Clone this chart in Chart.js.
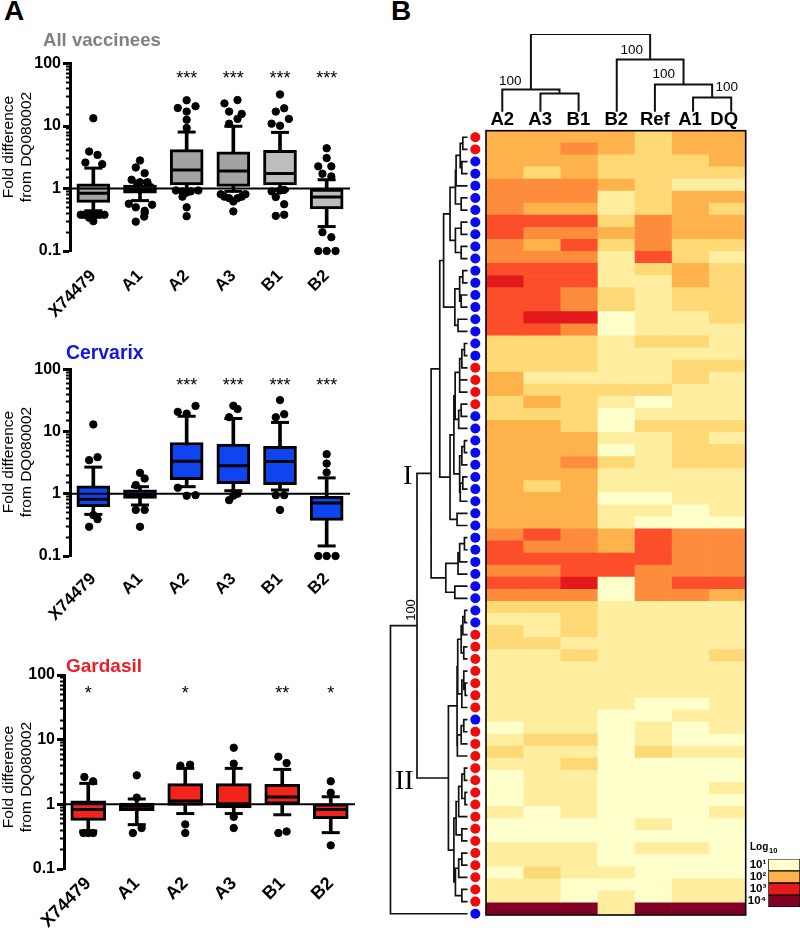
<!DOCTYPE html>
<html>
<head>
<meta charset="utf-8">
<title>Fold difference and heatmap</title>
<script src="https://cdn.jsdelivr.net/npm/chart.js@4"></script>
<style>
  html, body { margin: 0; padding: 0; background: #fff; }
  #page { position: relative; width: 800px; height: 928px; overflow: hidden; font-family: "Liberation Sans", Arial, sans-serif; }
  canvas { position: absolute; }
  .txt { position: absolute; white-space: nowrap; line-height: 1; color: #000; }
</style>
</head>
<body>
<div id="page"></div>
<script>
// panel A categories
const types = ["X74479", "A1", "A2", "A3", "B1", "B2"];

// All vaccinees
const allLow = [0.44, 0.64, 0.95, 0.9, 0.95, 0.246];
const allQ1 = [0.6, 0.84, 1.14, 1.08, 1.14, 0.47];
const allMed = [0.84, 0.93, 1.97, 1.9, 1.74, 0.73];
const allQ3 = [1.19, 1.13, 4.2, 3.87, 4.07, 0.975];
const allHigh = [2.12, 1.3, 8, 9.9, 7.9, 1.38];
const allStars = ["", "", "***", "***", "***", "***"];
const allPoints = [
  [0, 13.3], [-0.09, 3.9], [0.09, 3.45], [-0.17, 2.6], [0.19, 2.45], [-0.27, 0.38], [-0.2, 0.38], [-0.13, 0.38],
  [-0.06, 0.36], [0, 0.38], [0.07, 0.38], [0.14, 0.38], [0.24, 0.38], [-0.09, 0.34], [0, 0.3],
  [1, 2.81], [0.91, 2.17], [1.1, 1.76], [0.82, 1.38], [1, 1.26], [1.16, 1.26], [0.94, 1.2], [1.23, 1.05],
  [0.76, 0.57], [0.91, 0.5], [1.1, 0.44], [1.26, 0.55], [1.09, 0.355], [0.91, 0.295], [1.1, 0.41],
  [2, 25.8], [1.81, 19.4], [2.19, 20.7], [2, 17], [2, 12.6], [2, 9.3], [1.77, 0.93], [1.91, 0.9], [2.09, 0.9],
  [2.25, 0.93], [2, 0.86], [1.91, 0.74], [2, 0.5], [2, 0.36],
  [2.81, 23], [3.09, 26], [2.91, 17], [3.18, 15.6], [3.09, 13], [2.91, 10.9], [2.73, 0.81], [2.81, 0.74],
  [2.91, 0.7], [3, 0.62], [3.09, 0.7], [3.18, 0.74], [3.26, 0.81], [3, 0.43],
  [4, 32], [3.91, 17], [4.09, 19.2], [4.19, 13], [3.82, 10.9], [4, 10.1], [3.82, 0.9], [4.09, 0.95], [4, 0.93],
  [3.91, 0.73], [4.09, 0.56], [3.91, 0.365], [4.09, 0.38],
  [5, 4.4], [5, 3.07], [4.82, 2.26], [5.1, 2.26], [4.91, 1.72], [5.1, 1.56], [4.91, 0.2], [5.1, 0.166],
  [4.82, 0.1], [5, 0.1], [5.19, 0.1]
];

// Cervarix
const cerLow = [0.466, 0.66, 1.3, 1.12, 1.15, 0.145];
const cerQ1 = [0.62, 0.84, 1.68, 1.45, 1.4, 0.373];
const cerMed = [0.82, 0.975, 3.34, 2.81, 3.3, 0.71];
const cerQ3 = [1.34, 1.16, 6.66, 6.3, 5.8, 0.906];
const cerHigh = [2.68, 1.3, 17.6, 16.2, 14, 1.8];
const cerStars = ["", "", "***", "***", "***", "***"];
const cerPoints = [
  [0, 13], [-0.09, 3.47], [0.09, 3.87], [0, 0.455], [0.09, 0.39], [-0.09, 0.295],
  [1, 2.17], [1.1, 1.76], [0.91, 1.38], [0.91, 0.55], [1.1, 0.55], [1, 0.295],
  [2.19, 25.8], [1.81, 20.7], [2, 19.4], [1.81, 1.25], [2, 0.93], [2.19, 0.95],
  [3, 26], [3.09, 23], [2.91, 17], [3.09, 1], [3, 0.93], [2.91, 0.79],
  [4, 32], [4.09, 19], [3.91, 17], [3.91, 0.95], [4.09, 0.95], [4, 0.55],
  [5, 4.33], [5, 3.06], [5, 2.2], [4.82, 0.1], [5, 0.1], [5.19, 0.1]
];

// Gardasil
const garLow = [0.387, 0.485, 0.72, 0.72, 0.69, 0.365];
const garQ1 = [0.565, 0.8, 0.965, 0.88, 1.01, 0.6];
const garMed = [0.83, 0.93, 1.13, 1.02, 1.3, 0.83];
const garQ3 = [1.13, 1.05, 2.09, 2.09, 2.04, 1.02];
const garHigh = [2.11, 1.21, 3.6, 3.6, 3.47, 1.31];
const garStars = ["*", "", "*", "", "**", "*"];
const garPoints = [
  [-0.08, 2.65], [0.1, 2.27], [-0.1, 0.36], [0, 0.36], [0.1, 0.36],
  [1, 2.81], [1, 1.27], [0.92, 0.36], [1.1, 0.43],
  [1.9, 3.96], [2.1, 4.1], [2, 0.49], [2, 0.36],
  [3, 7.5], [3, 4.25], [3, 0.64], [3, 0.43],
  [3.92, 5.45], [4.09, 4.35], [3.92, 0.36], [4.09, 0.38],
  [5, 2.27], [5, 1.51], [5, 0.232]
];

// panel B, log10 colour level per row, columns as in heatCols
const heatCols = ["A2", "A3", "B1", "B2", "Ref", "A1", "DQ"];
const heatColTicks = [0.44, 1.46, 2.49, 3.51, 4.55, 5.5, 6.42];
const heatRows = [
  [3,3,3,3,2,3,3], [3,3,4,3,2,3,3], [3,3,3,2,2,2,3], [3,2,3,2,2,2,2], [4,4,4,3,2,1,1],
  [4,4,4,1,2,3,3], [4,3,3,1,2,3,2], [5,5,5,2,4,3,3], [5,4,4,3,4,3,3], [4,3,5,2,4,2,2],
  [4,4,4,1,5,2,1], [5,5,5,1,2,3,2], [6,5,5,1,1,3,2], [5,5,4,2,1,2,2], [5,5,4,2,1,2,2],
  [5,6,6,0,1,1,2], [5,5,4,0,1,1,1], [2,2,2,1,2,2,1], [2,2,2,1,1,1,1], [2,2,2,1,1,2,2],
  [3,1,1,1,1,2,1], [3,2,2,2,2,1,1], [2,3,2,1,0,1,1], [2,2,2,0,1,1,1], [3,3,2,0,2,2,2],
  [3,3,3,1,1,2,1], [3,3,3,0,1,2,2], [3,3,4,2,1,2,2], [3,3,3,1,1,1,1], [3,2,3,1,1,1,1],
  [3,3,3,0,0,1,1], [3,3,3,1,1,0,1], [3,3,3,1,0,0,0], [4,5,4,3,5,4,4], [5,4,4,3,5,4,4],
  [5,5,5,5,5,4,4], [4,4,5,5,4,4,4], [5,5,6,0,4,5,5], [4,4,4,0,4,4,3], [2,2,2,1,1,1,1],
  [1,1,2,1,1,1,1], [2,1,2,1,1,1,1], [2,2,1,1,1,1,1], [1,1,2,1,1,1,2], [1,1,1,1,1,1,1],
  [1,1,1,1,1,1,1], [1,1,1,1,1,1,1], [1,1,1,1,0,0,1], [1,1,1,0,0,1,1], [0,1,1,0,1,0,1],
  [1,2,2,0,1,0,0], [2,1,1,0,2,1,1], [1,1,2,0,0,0,0], [0,1,1,0,0,0,0], [0,1,1,0,0,0,1],
  [0,1,1,0,0,0,0], [1,0,1,0,0,0,1], [0,0,0,0,1,0,0], [0,0,0,0,0,0,0], [1,1,1,0,1,1,0],
  [1,1,1,0,0,0,0], [0,2,1,1,0,0,0], [1,1,0,0,0,1,1], [1,1,0,1,0,1,1], [7,7,7,1,7,7,7]
];
const heatPalette = ["#ffffcc", "#ffeda0", "#fed976", "#feb24c", "#fd8d3c", "#fc4e2a", "#e31a1c", "#800026"];

// C = Cervarix, G = Gardasil, one per row
const rowVaccine = "GGCCCCCCCCCCCCCCCCCGGGGCCCCCCCCCCCCCCCCCCGGGGGGGCGGGGGGGGGGGGGGGC".split("");

// dendrograms: [height, child, child], a bare number is a leaf
const rowUpper = [24,
  [17.3,
    [11.7, [11, [6.7, [4, 0, 1], [5, 2, 3]], 4], [5.7, 5, 6]],
    [11.7, [5.7, 7, 8], [5.7, 9, 10]]],
  [12.3, [7.3, [4, 11, 12], [5.7, 13, 14]], [9, 15, 16]]];
const rowMiddle = [17.3,
  [13.3,
    [12, [7.3, [5, [2.3, 17, 18], 19], [7.3, 20, 21]], [8.3, [5.7, 22, 23], 24]],
    [7.3, [5, [2.3, 25, 26], 27], [6.7, [4, 28, 29], 30]]],
  [10, 31, 32]];
const rowLower = [21.7, [9, [7.3, [2.3, 33, 34], 35], 36], [12.3, 37, 38]];
const rowGroup2 = [19,
  [10,
    [9.3, [5.7, [4, [2, 39, 40], 41], [3, 42, 43]], [5, [3, 44, [1.5, 45, 46]], 47]],
    [9.7, [5.7, [3, 48, 49], 50], 51]],
  [13.3,
    [11, [8.3, [5, [2.3, 52, 53], [1.7, 54, 55]], 56], [5, 57, 58]],
    [11.7, [8.3, [5, 59, 60], 61], [5, 62, 63]]]];
const rowTree = [79.3, [51.7, [37, [28, rowUpper, rowMiddle], rowLower], rowGroup2], 64];
const colTree = [77.7, [22.3, 0, [18.3, 1, 2]], [52.3, 3, [27.3, 4, [14.3, 5, 6]]]];

const legendLabels = ["10\u00b9", "10\u00b2", "10\u00b3", "10\u2074"];
const legendColors = ["#ffffcc", "#feb24c", "#e31a1c", "#800026"];

const page = document.getElementById("page");
const fontName = '"Liberation Sans"';

function makeCanvas(x, y, w, h) {
  const c = document.createElement("canvas");
  c.width = w;
  c.height = h;
  c.style.left = x + "px";
  c.style.top = y + "px";
  c.style.width = w + "px";
  c.style.height = h + "px";
  page.appendChild(c);
  return c.getContext("2d");
}

// baseline text
function putText(text, x, baseline, size, css) {
  const d = document.createElement("div");
  d.className = "txt";
  d.textContent = text;
  d.style.cssText = `left:${x}px;top:${baseline - size * 0.8465}px;font-size:${size}px;${css || ""}`;
  page.appendChild(d);
}

// centred vertical text
function putSideText(text, cx, cy, size, css) {
  const d = document.createElement("div");
  d.className = "txt";
  d.textContent = text;
  d.style.cssText = `left:${cx}px;top:${cy}px;font-size:${size}px;transform:translate(-50%,-50%) rotate(-90deg);${css || ""}`;
  page.appendChild(d);
}

// flatten a tree into line pieces, with NaN breaks between them
function treeLines(node, out) {
  if (typeof node === "number") return { pos: node, h: 0 };
  const a = treeLines(node[1], out);
  const b = treeLines(node[2], out);
  const h = node[0];
  out.push([a.h, a.pos, h, a.pos], [h, a.pos, h, b.pos], [h, b.pos, b.h, b.pos]);
  return { pos: (a.pos + b.pos) / 2, h: h };
}

const starsPlugin = {
  id: "stars",
  afterDatasetsDraw(chart, args, opts) {
    const { ctx, scales } = chart;
    ctx.save();
    ctx.font = "18px " + fontName;
    ctx.fillStyle = "#000";
    ctx.textAlign = "center";
    ctx.textBaseline = "alphabetic";
    opts.labels.forEach((s, i) => {
      if (s) ctx.fillText(s, scales.x.getPixelForValue(i), scales.y.getPixelForValue(opts.level) + 10);
    });
    ctx.restore();
  },
};

const framePlugin = {
  id: "frame",
  afterDatasetsDraw(chart) {
    const { ctx, chartArea: a } = chart;
    ctx.save();
    ctx.strokeStyle = "#000";
    ctx.lineWidth = 1.6;
    ctx.strokeRect(a.left, a.top, a.right - a.left, a.bottom - a.top);
    ctx.restore();
  },
};

function isDecade(v) {
  const l = Math.log10(v);
  return Math.abs(l - Math.round(l)) < 1e-6;
}

function boxPlot(box, area, s) {
  const ctx = makeCanvas(box[0], box[1], box[2], box[3]);
  const caps = [];
  types.forEach((t, i) => {
    caps.push({ x: i, y: s.low[i] }, { x: i, y: s.high[i] });
  });
  new Chart(ctx, {
    type: "bar",
    data: {
      datasets: [
        {
          type: "scatter",
          data: s.points.map((p) => ({ x: p[0], y: p[1] })),
          backgroundColor: "#000",
          borderColor: "#000",
          pointRadius: 3.7,
          clip: false,
          order: 6,
        },
        {
          type: "bar",
          data: types.map((t, i) => ({ x: i, y: [s.low[i], s.high[i]] })),
          backgroundColor: "#000",
          barThickness: 3,
          grouped: false,
          order: 5,
        },
        {
          type: "bar",
          data: types.map((t, i) => ({ x: i, y: [s.q1[i], s.q3[i]] })),
          backgroundColor: s.fill,
          borderColor: "#000",
          borderWidth: 3,
          borderSkipped: false,
          barThickness: s.boxWidth,
          grouped: false,
          order: 4,
        },
        {
          type: "scatter",
          data: caps,
          pointStyle: "line",
          pointRadius: 9,
          pointBorderWidth: 3,
          pointBorderColor: "#000",
          clip: false,
          order: 3,
        },
        {
          type: "scatter",
          data: types.map((t, i) => ({ x: i, y: s.med[i] })),
          pointStyle: "line",
          pointRadius: s.boxWidth / 2 - 1,
          pointBorderWidth: 3,
          pointBorderColor: "#000",
          order: 2,
        },
        {
          type: "scatter",
          showLine: true,
          data: [{ x: -0.5, y: 1 }, { x: 5.5, y: 1 }],
          borderColor: "#000",
          borderWidth: 2,
          pointRadius: 0,
          order: 1,
        },
      ],
    },
    options: {
      responsive: false,
      animation: false,
      layout: {
        padding: { top: area[1] - box[1], right: box[0] + box[2] - area[2], left: 0, bottom: 0 },
      },
      scales: {
        x: {
          type: "linear",
          offset: false,
          min: -0.5,
          max: 5.5,
          grid: { display: false },
          border: { display: false },
          afterBuildTicks: (scale) => {
            scale.ticks = types.map((t, i) => ({ value: i }));
          },
          afterFit: (scale) => {
            scale.height = box[1] + box[3] - area[3];
            // long rotated labels must not squeeze the plot
            scale.paddingLeft = 0;
            scale.paddingRight = 0;
          },
          ticks: {
            autoSkip: false,
            minRotation: 45,
            maxRotation: 45,
            padding: s.labelGap,
            color: "#000",
            font: { family: fontName, size: s.labelSize, weight: "bold" },
            callback: (v) => types[v],
          },
        },
        y: {
          type: "logarithmic",
          weight: 1,
          min: 0.1,
          max: 100,
          border: { display: true, color: "#000", width: 3 },
          grid: { drawOnChartArea: false, tickLength: 7, tickWidth: 3, tickColor: "#000" },
          afterBuildTicks: (scale) => {
            scale.ticks = scale.ticks.filter((t) => isDecade(t.value));
          },
          afterFit: (scale) => {
            scale.width = area[0] - box[0];
          },
          ticks: {
            autoSkip: false,
            padding: 2,
            color: "#000",
            font: { family: fontName, size: 16, weight: "bold" },
            callback: (v) => String(v),
          },
        },
        yMinor: {
          type: "logarithmic",
          axis: "y",
          position: "left",
          weight: 0,
          min: 0.1,
          max: 100,
          border: { display: false },
          grid: { drawOnChartArea: false, tickLength: 4, tickWidth: 2, tickColor: "#000" },
          afterBuildTicks: (scale) => {
            scale.ticks = scale.ticks.filter((t) => !isDecade(t.value));
          },
          afterFit: (scale) => {
            scale.width = 0;
          },
          ticks: { autoSkip: false, display: false },
        },
      },
      plugins: {
        legend: { display: false },
        tooltip: { enabled: false },
        title: { display: false },
        stars: { labels: s.stars, level: s.starLevel },
      },
    },
    plugins: [starsPlugin],
  });
}

const grayFill = ["#a3a3a3", "#a3a3a3", "#a3a3a3", "#a3a3a3", "#bdbdbd", "#bdbdbd"];
const blueFill = types.map(() => "#0f45f0");
const redFill = types.map(() => "#f4241c");

boxPlot([0, 30, 380, 295], [70, 63.5, 350, 251], {
  low: allLow, q1: allQ1, med: allMed, q3: allQ3, high: allHigh, points: allPoints,
  stars: allStars, starLevel: 69, fill: grayFill, boxWidth: 33, labelGap: 7, labelSize: 17,
});
boxPlot([0, 340, 380, 295], [70, 369.3, 350, 556], {
  low: cerLow, q1: cerQ1, med: cerMed, q3: cerQ3, high: cerHigh, points: cerPoints,
  stars: cerStars, starLevel: 66, fill: blueFill, boxWidth: 33, labelGap: 5, labelSize: 17,
});
boxPlot([0, 645, 380, 283], [64, 675, 355, 869], {
  low: garLow, q1: garQ1, med: garMed, q3: garQ3, high: garHigh, points: garPoints,
  stars: garStars, starLevel: 61, fill: redFill, boxWidth: 35, labelGap: -4, labelSize: 18,
});

// heatmap: one stacked bar per row, one dataset per column
const heatBox = [480, 100, 272, 825];
const heatArea = [486, 130.7, 745.7, 915];
new Chart(makeCanvas(heatBox[0], heatBox[1], heatBox[2], heatBox[3]), {
  type: "bar",
  data: {
    labels: heatRows.map((r, i) => i),
    datasets: heatCols.map((c, j) => ({
      label: c,
      data: heatRows.map(() => 1),
      backgroundColor: heatRows.map((r) => heatPalette[r[j]]),
      barPercentage: 1,
      categoryPercentage: 1,
      borderWidth: 0,
    })),
  },
  options: {
    indexAxis: "y",
    responsive: false,
    animation: false,
    layout: {
      padding: {
        left: heatArea[0] - heatBox[0],
        right: heatBox[0] + heatBox[2] - heatArea[2],
        top: 0,
        bottom: heatBox[1] + heatBox[3] - heatArea[3],
      },
    },
    scales: {
      x: {
        type: "linear",
        position: "top",
        stacked: true,
        min: 0,
        max: 7,
        grid: { display: false, drawTicks: false },
        border: { display: false },
        afterBuildTicks: (scale) => {
          scale.ticks = heatColTicks.map((v) => ({ value: v }));
        },
        afterFit: (scale) => {
          scale.height = heatArea[1] - heatBox[1];
          scale.paddingLeft = 0;
          scale.paddingRight = 0;
        },
        ticks: {
          autoSkip: false,
          maxRotation: 0,
          padding: 0,
          color: "#000",
          font: { family: fontName, size: 18.5, weight: "bold" },
          callback: (v, i) => heatCols[i],
        },
      },
      y: { stacked: true, display: false },
    },
    plugins: { legend: { display: false }, tooltip: { enabled: false } },
  },
  plugins: [framePlugin],
});

function linePoints(tree, horizontal) {
  const pieces = [];
  treeLines(tree, pieces);
  const pts = [];
  pieces.forEach((p) => {
    if (horizontal) pts.push({ x: p[0], y: p[1] }, { x: p[2], y: p[3] });
    else pts.push({ x: p[1], y: p[0] }, { x: p[3], y: p[2] });
    pts.push({ x: NaN, y: NaN });
  });
  return pts;
}

// row dendrogram and vaccine dots, height runs right to left from the leaves
const leftBox = [380, 125, 108, 803];
const dotHeight = -9;
new Chart(makeCanvas(leftBox[0], leftBox[1], leftBox[2], leftBox[3]), {
  type: "scatter",
  data: {
    datasets: [
      {
        showLine: true,
        spanGaps: false,
        data: linePoints(rowTree, true),
        borderColor: "#111",
        borderWidth: 1.7,
        borderCapStyle: "square",
        pointRadius: 0,
      },
      {
        data: rowVaccine.map((v, i) => ({ x: dotHeight, y: i })),
        backgroundColor: rowVaccine.map((v) => (v === "G" ? "#f00c0c" : "#0a0aee")),
        borderWidth: 0,
        pointRadius: 5,
      },
    ],
  },
  options: {
    responsive: false,
    animation: false,
    layout: {
      padding: { left: 3.3, right: leftBox[0] + leftBox[2] - 485.3, top: 131.2 - leftBox[1], bottom: leftBox[1] + leftBox[3] - 919.8 },
    },
    scales: {
      x: { type: "linear", reverse: true, min: -17, max: 85, display: false },
      y: { type: "linear", reverse: true, min: -0.5, max: 64.5, display: false },
    },
    plugins: { legend: { display: false }, tooltip: { enabled: false } },
  },
});

// column dendrogram
const topBox = [478, 25, 280, 90];
new Chart(makeCanvas(topBox[0], topBox[1], topBox[2], topBox[3]), {
  type: "scatter",
  data: {
    datasets: [
      {
        showLine: true,
        spanGaps: false,
        data: linePoints(colTree, false),
        borderColor: "#111",
        borderWidth: 2,
        borderCapStyle: "square",
        pointRadius: 0,
      },
    ],
  },
  options: {
    responsive: false,
    animation: false,
    layout: {
      padding: { left: 483.2 - topBox[0], right: topBox[0] + topBox[2] - 750.3, top: 34 - topBox[1], bottom: topBox[1] + topBox[3] - 111.7 },
    },
    scales: {
      x: { type: "linear", min: -0.5, max: 6.5, display: false },
      y: { type: "linear", min: 0, max: 77.7, display: false },
    },
    plugins: { legend: { display: false }, tooltip: { enabled: false } },
  },
});

// colour key
const keyBox = [735, 850, 65, 66];
new Chart(makeCanvas(keyBox[0], keyBox[1], keyBox[2], keyBox[3]), {
  type: "bar",
  data: {
    labels: legendLabels,
    datasets: [
      {
        data: legendLabels.map(() => 1),
        backgroundColor: legendColors,
        borderColor: "#000",
        borderWidth: 1,
        borderSkipped: false,
        barPercentage: 1,
        categoryPercentage: 1,
      },
    ],
  },
  options: {
    indexAxis: "y",
    responsive: false,
    animation: false,
    layout: { padding: { top: 6, bottom: 6, left: 0, right: 0 } },
    scales: {
      x: { min: 0, max: 1, display: false },
      y: {
        grid: { display: false, drawTicks: false },
        border: { display: false },
        afterFit: (scale) => {
          scale.width = 33.3;
        },
        ticks: {
          autoSkip: false,
          padding: 2,
          color: "#000",
          font: { family: fontName, size: 11.5, weight: "bold" },
        },
      },
    },
    plugins: { legend: { display: false }, tooltip: { enabled: false } },
  },
});

// panel letters, titles and axis text
putText("A", 4, 20.5, 28, "font-weight:bold");
putText("B", 391, 20.5, 28, "font-weight:bold");
putText("All vaccinees", 43, 46.7, 18.6, "font-weight:bold;color:#808080");
putText("Cervarix", 66, 359.3, 19.4, "font-weight:bold;color:#1414e6");
putText("Gardasil", 66, 671.7, 19, "font-weight:bold;color:#ee1c25");

[147, 461.7, 776.7].forEach((cy) => {
  putSideText("Fold difference", 8, cy, 15.5);
  putSideText("from DQ080002", 26, cy, 15.5);
});

putText("100", 499, 85, 13.5);
putText("100", 620.5, 54, 13.5);
putText("100", 652.5, 78, 13.5);
putText("100", 715.5, 91, 13.5);
putSideText("100", 410, 610, 13);
putText("I", 403, 485, 28, 'font-family:"Liberation Serif"');
putText("II", 395, 790, 28, 'font-family:"Liberation Serif"');
putText("Log", 750, 850.7, 10, "font-weight:bold");
putText("10", 769, 853.3, 7.5, "font-weight:bold");
</script>
</body>
</html>
